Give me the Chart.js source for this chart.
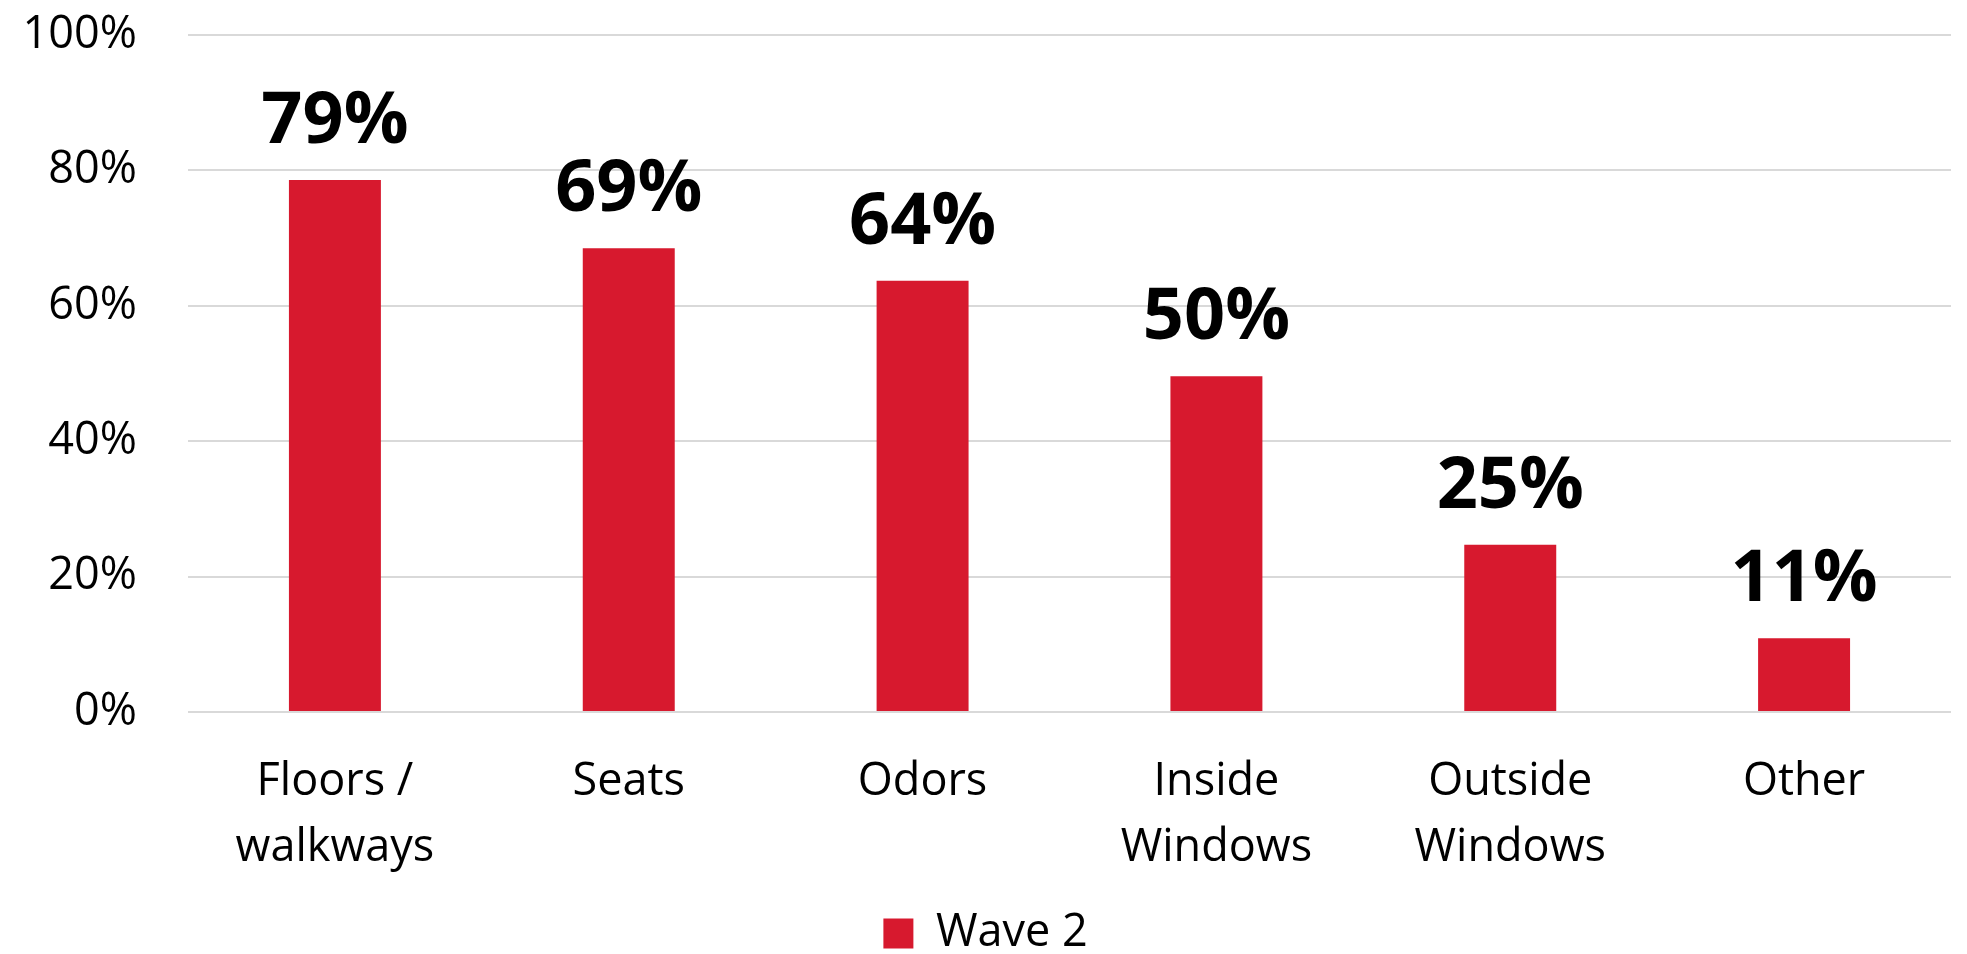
<!DOCTYPE html>
<html>
<head>
<meta charset="utf-8">
<script src="https://cdn.jsdelivr.net/npm/chart.js@4/dist/chart.umd.min.js"></script>
<style>
  html, body { margin: 0; padding: 0; background: #fff; }
  #wrap { width: 1967px; height: 954px; }
</style>
</head>
<body>
<div id="wrap"><canvas id="chart"></canvas></div>
<script>
const categories = [['Floors /', 'walkways'], 'Seats', 'Odors', ['Inside', 'Windows'], ['Outside', 'Windows'], 'Other'];
const wave2 = [78.6, 68.5, 63.7, 49.6, 24.7, 10.9];
const yTicks = [0, 20, 40, 60, 80, 100];

const red = '#d7192e';
const fontFamily = '"Open Sans", "Liberation Sans", sans-serif';

// etiquetas em cima das barras
const barLabels = {
    id: 'barLabels',
    afterDatasetsDraw(chart) {
        const ctx = chart.ctx;
        const meta = chart.getDatasetMeta(0);
        ctx.save();
        ctx.font = 'bold 72px ' + fontFamily;
        ctx.fillStyle = '#000';
        ctx.textAlign = 'center';
        ctx.textBaseline = 'alphabetic';
        meta.data.forEach((bar, i) => {
            ctx.fillText(Math.round(wave2[i]) + '%', bar.x, bar.y - 37);
        });
        ctx.restore();
    }
};

new Chart(document.getElementById('chart').getContext('2d'), {
    type: 'bar',
    data: {
        labels: categories,
        datasets: [{
            label: 'Wave 2',
            data: wave2,
            backgroundColor: red,
            borderWidth: 0,
            barPercentage: 0.313,
            categoryPercentage: 1
        }]
    },
    options: {
        responsive: true,
        maintainAspectRatio: false,
        animation: false,
        layout: { padding: { top: 35, right: 16, left: 20, bottom: -12 } },
        scales: {
            x: {
                grid: { display: false },
                border: { display: false },
                ticks: {
                    color: '#000',
                    font: { family: fontFamily, size: 45, lineHeight: 1.45 },
                    padding: 30,
                    maxRotation: 0,
                    autoSkip: false
                },
                afterFit(scale) { scale.height = 199; }
            },
            y: {
                min: 0,
                max: 100,
                afterBuildTicks(scale) { scale.ticks = yTicks.map(v => ({ value: v })); },
                grid: { color: '#d9d9d9', lineWidth: 2, drawTicks: true, tickLength: 51, tickColor: 'transparent' },
                border: { display: false },
                ticks: {
                    color: '#000',
                    font: { family: fontFamily, size: 45 },
                    padding: 0,
                    callback: v => v + '%'
                },
                afterFit(scale) { scale.width = 168; }
            }
        },
        plugins: {
            legend: {
                position: 'bottom',
                labels: {
                    color: '#000',
                    font: { family: fontFamily, size: 45 },
                    boxWidth: 30,
                    boxHeight: 30,
                    padding: 0
                }
            },
            tooltip: { enabled: false }
        }
    },
    plugins: [barLabels]
});
</script>
</body>
</html>
